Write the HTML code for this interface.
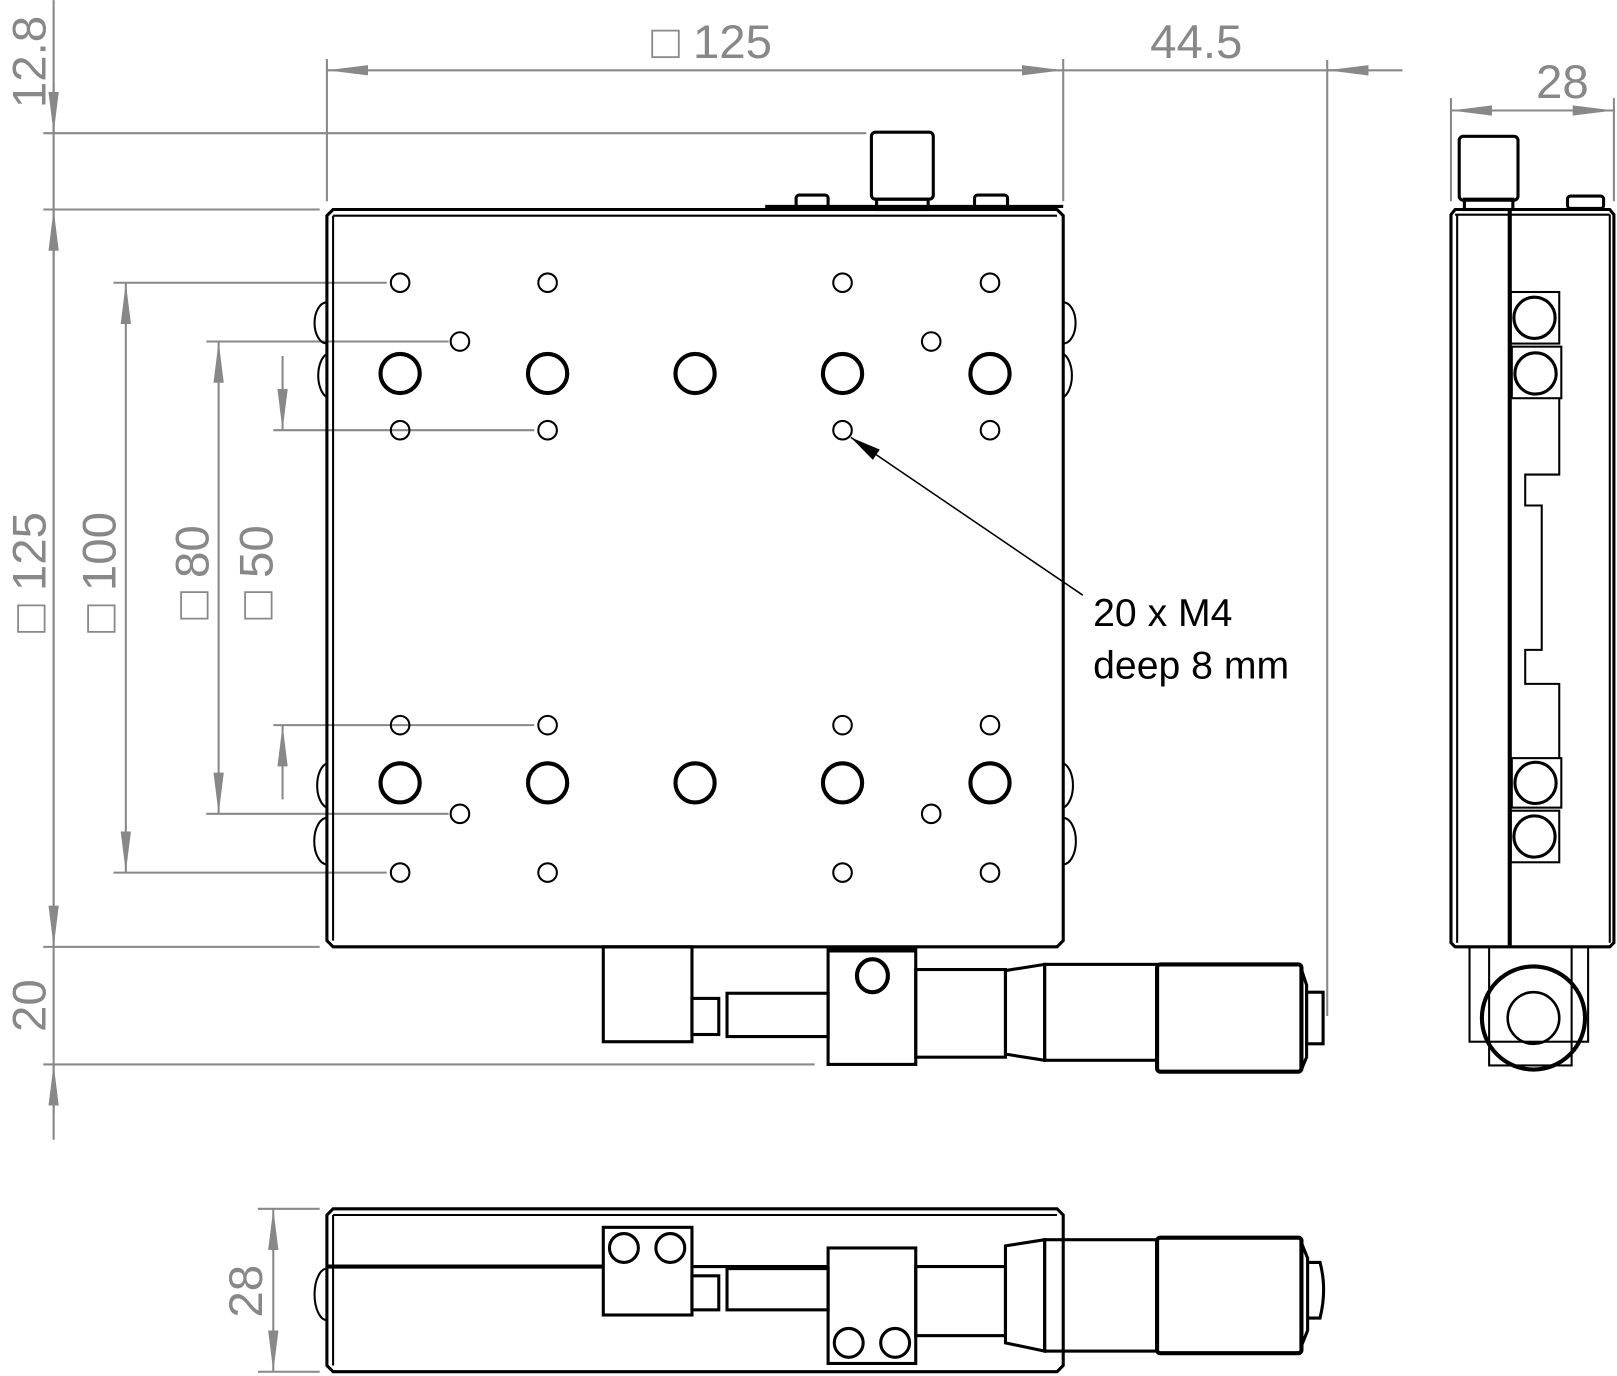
<!DOCTYPE html>
<html><head><meta charset="utf-8"><style>html,body{margin:0;padding:0;background:#fff}svg{display:block}</style></head>
<body>
<svg width="1617" height="1376" viewBox="0 0 1568 1334" xmlns="http://www.w3.org/2000/svg">
<defs>
<marker id="a" viewBox="0 0 40 12" refX="40" refY="6" markerWidth="40" markerHeight="12" markerUnits="userSpaceOnUse" orient="auto-start-reverse"><path d="M0,1 L40,6 L0,11 Z" fill="#888"/></marker>
<marker id="k" viewBox="0 0 30 12" refX="30" refY="6" markerWidth="30" markerHeight="12" markerUnits="userSpaceOnUse" orient="auto"><path d="M0,0 L30,6 L0,12 Z" fill="#000"/></marker>
</defs>
<g stroke="#888" stroke-width="2" fill="none">
<line x1="317" y1="195" x2="317" y2="57"/><line x1="1031" y1="195" x2="1031" y2="57"/>
<line x1="317" y1="68" x2="1031" y2="68" marker-start="url(#a)" marker-end="url(#a)"/>
<line x1="1031" y1="68" x2="1360" y2="68"/>
<line x1="1287" y1="68" x2="1327" y2="68" marker-start="url(#a)"/>
<line x1="1287" y1="58" x2="1287" y2="985"/>
<line x1="1407" y1="195" x2="1407" y2="95"/><line x1="1565" y1="195" x2="1565" y2="95"/>
<line x1="1407" y1="107" x2="1565" y2="107" marker-start="url(#a)" marker-end="url(#a)"/>
<line x1="52" y1="0" x2="52" y2="1105"/>
<line x1="52" y1="80" x2="52" y2="129" marker-end="url(#a)"/>
<line x1="52" y1="203" x2="52" y2="918" marker-start="url(#a)" marker-end="url(#a)"/>
<line x1="52" y1="1080" x2="52" y2="1032" marker-end="url(#a)"/>
<line x1="42" y1="129" x2="840" y2="129"/>
<line x1="42" y1="203" x2="310" y2="203"/>
<line x1="42" y1="918" x2="310" y2="918"/>
<line x1="42" y1="1032" x2="790" y2="1032"/>
<line x1="110" y1="274" x2="375" y2="274"/><line x1="110" y1="846" x2="375" y2="846"/>
<line x1="122" y1="274" x2="122" y2="846" marker-start="url(#a)" marker-end="url(#a)"/>
<line x1="200" y1="331" x2="435" y2="331"/><line x1="200" y1="789" x2="435" y2="789"/>
<line x1="212" y1="331" x2="212" y2="789" marker-start="url(#a)" marker-end="url(#a)"/>
<line x1="265" y1="417" x2="518" y2="417"/><line x1="265" y1="703" x2="518" y2="703"/>
<line x1="274" y1="345" x2="274" y2="417" marker-end="url(#a)"/>
<line x1="274" y1="775" x2="274" y2="703" marker-end="url(#a)"/>
<line x1="250" y1="1172" x2="310" y2="1172"/><line x1="250" y1="1330" x2="310" y2="1330"/>
<line x1="265" y1="1172" x2="265" y2="1330" marker-start="url(#a)" marker-end="url(#a)"/>
</g>
<g fill="#888" font-family="Liberation Sans, sans-serif" font-size="46">
<text x="690" y="56" text-anchor="middle">□ 125</text>
<text x="1160" y="56" text-anchor="middle">44.5</text>
<text x="1515" y="95" text-anchor="middle">28</text>
<text transform="translate(44,60) rotate(-90)" text-anchor="middle">12.8</text>
<text transform="translate(44,555) rotate(-90)" text-anchor="middle">□ 125</text>
<text transform="translate(112,555) rotate(-90)" text-anchor="middle">□ 100</text>
<text transform="translate(202,555) rotate(-90)" text-anchor="middle">□ 80</text>
<text transform="translate(264,555) rotate(-90)" text-anchor="middle">□ 50</text>
<text transform="translate(44,975) rotate(-90)" text-anchor="middle">20</text>
<text transform="translate(254,1252) rotate(-90)" text-anchor="middle">28</text>
</g>
<g stroke="#000" stroke-width="3" fill="none">
<path d="M323,203 H1025 L1031,209 V912 L1025,918 H323 L317,912 V209 Z"/>
<path d="M323,209 H1025 M323,209 V912" stroke-width="2"/>
<line x1="742" y1="200" x2="1031" y2="200" stroke-width="3"/>
<rect x="845" y="128" width="60" height="65" rx="4"/>
<rect x="850" y="193" width="50" height="10"/>
<rect x="772" y="189" width="31" height="12" rx="3"/>
<rect x="945" y="189" width="32" height="12" rx="3"/>
<g stroke-width="2">
<path d="M317,293 A12,20 0 0 0 317,333"/><path d="M317,343 A12,22 0 0 0 317,385"/>
<path d="M317,740 A12,22 0 0 0 317,783"/><path d="M317,793 A12,22 0 0 0 317,838"/>
<path d="M1031,293 A12,20 0 0 1 1031,333"/><path d="M1031,343 A12,22 0 0 1 1031,385"/>
<path d="M1031,740 A12,22 0 0 1 1031,783"/><path d="M1031,793 A12,22 0 0 1 1031,838"/>
</g>
<g stroke-width="2">
<circle cx="388" cy="274" r="9"/><circle cx="531" cy="274" r="9"/><circle cx="817" cy="274" r="9"/><circle cx="960" cy="274" r="9"/>
<circle cx="388" cy="417" r="9"/><circle cx="531" cy="417" r="9"/><circle cx="817" cy="417" r="9"/><circle cx="960" cy="417" r="9"/>
<circle cx="388" cy="703" r="9"/><circle cx="531" cy="703" r="9"/><circle cx="817" cy="703" r="9"/><circle cx="960" cy="703" r="9"/>
<circle cx="388" cy="846" r="9"/><circle cx="531" cy="846" r="9"/><circle cx="817" cy="846" r="9"/><circle cx="960" cy="846" r="9"/>
<circle cx="446" cy="331" r="9"/><circle cx="903" cy="331" r="9"/><circle cx="446" cy="789" r="9"/><circle cx="903" cy="789" r="9"/>
</g>
<g stroke-width="4">
<circle cx="388" cy="362" r="19"/><circle cx="531" cy="362" r="19"/><circle cx="674" cy="362" r="19"/><circle cx="817" cy="362" r="19"/><circle cx="960" cy="362" r="19"/>
<circle cx="388" cy="759" r="19"/><circle cx="531" cy="759" r="19"/><circle cx="674" cy="759" r="19"/><circle cx="817" cy="759" r="19"/><circle cx="960" cy="759" r="19"/>
</g>
<line x1="1050" y1="577" x2="825" y2="424" stroke-width="1.5" marker-end="url(#k)"/>
<rect x="585" y="918" width="86" height="92"/>
<rect x="671" y="968" width="26" height="35"/>
<rect x="705" y="963" width="98" height="42"/>
<rect x="803" y="920" width="85" height="112"/>
<line x1="803" y1="921" x2="888" y2="921" stroke-width="5"/>
<ellipse cx="846" cy="946" rx="15" ry="16" stroke-width="4"/>
<rect x="888" y="940" width="87" height="85"/>
<path d="M975,941 L1013,935 V1028 L975,1022 Z"/>
<rect x="1013" y="935" width="109" height="93"/>
<rect x="1122" y="935" width="140" height="104" rx="3" stroke-width="4"/>
<path d="M1262,940 L1267,955 V1025 L1262,1037"/>
<rect x="1267" y="962" width="16" height="50"/>
<path d="M1411,203 H1561 L1565,208 V914 L1561,918 H1411 L1407,914 V208 Z"/>
<path d="M1413,208 V914 M1561,208 V914 M1411,208 H1561" stroke-width="2"/>
<rect x="1415" y="132" width="57" height="62" rx="4"/>
<rect x="1420" y="193" width="47" height="10"/>
<rect x="1520" y="190" width="35" height="12" rx="3"/>
<line x1="1464" y1="203" x2="1464" y2="918" stroke-width="4"/>
<rect x="1465" y="283" width="47" height="50" stroke-width="2"/>
<rect x="1466" y="336" width="48" height="50" stroke-width="2"/>
<rect x="1466" y="735" width="48" height="48" stroke-width="2"/>
<rect x="1465" y="786" width="47" height="50" stroke-width="2"/>
<circle cx="1488" cy="308" r="20"/><circle cx="1489" cy="362" r="20"/>
<circle cx="1489" cy="759" r="20"/><circle cx="1488" cy="811" r="20"/>
<path d="M1512,386 V460 H1479 V490 H1495 V630 H1479 V663 H1512 V735" stroke-width="2"/>
<rect x="1425" y="918" width="115" height="92" stroke-width="2"/>
<rect x="1444" y="918" width="80" height="115" stroke-width="2"/>
<circle cx="1487" cy="987" r="50" stroke-width="4"/>
<circle cx="1487" cy="987" r="25" stroke-width="2.5"/>
<path d="M323,1172 H1025 L1031,1178 V1324 L1025,1330 H323 L317,1324 V1178 Z"/>
<path d="M323,1178 H1025 M323,1178 V1324" stroke-width="2"/>
<line x1="317" y1="1228" x2="585" y2="1228" stroke-width="4"/>
<line x1="671" y1="1228" x2="803" y2="1228" stroke-width="3"/>
<path d="M317,1230 A12,25 0 0 0 317,1280" stroke-width="2"/>
<rect x="585" y="1190" width="86" height="85"/>
<circle cx="605" cy="1210" r="14"/><circle cx="650" cy="1210" r="14"/>
<rect x="671" y="1237" width="26" height="33"/>
<rect x="705" y="1230" width="98" height="40"/>
<rect x="803" y="1210" width="85" height="112"/>
<circle cx="823" cy="1302" r="14"/><circle cx="868" cy="1302" r="14"/>
<rect x="888" y="1228" width="87" height="67"/>
<path d="M975,1208 L1013,1202 V1310 L975,1302 Z"/>
<rect x="1013" y="1202" width="109" height="108"/>
<rect x="1122" y="1200" width="140" height="112" rx="3" stroke-width="4"/>
<path d="M1262,1205 L1268,1220 V1290 L1262,1305"/>
<path d="M1268,1224 H1280 Q1287,1250 1280,1278 H1268"/>
</g>
<g fill="#000" font-family="Liberation Sans, sans-serif" font-size="38">
<text x="1060" y="607">20 x M4</text>
<text x="1060" y="658">deep 8 mm</text>
</g>
</svg>
</body></html>
